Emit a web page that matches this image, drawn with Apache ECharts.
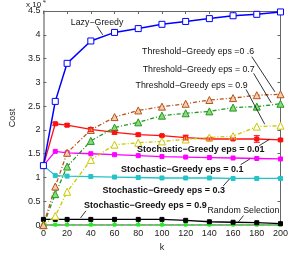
<!DOCTYPE html>
<html><head><meta charset="utf-8">
<script src="https://cdn.jsdelivr.net/npm/echarts@6/dist/echarts.min.js"></script>
<style>html,body{margin:0;padding:0;background:#fff}#c{width:291px;height:257px}</style>
</head><body><div id="c"></div>
<script>
// values in units of 10^4
var kValues = [0, 10, 20, 40, 60, 80, 100, 120, 140, 160, 180, 200];
var lazyGreedy = [1.25, 2.6, 3.4, 3.87, 4.05, 4.13, 4.22, 4.28, 4.34, 4.40, 4.43, 4.48];
var thr06 = [0, 0.81, 1.52, 2.0, 2.27, 2.41, 2.49, 2.55, 2.63, 2.67, 2.73, 2.75];
var thr07 = [0, 0.65, 1.23, 1.77, 2.05, 2.16, 2.30, 2.35, 2.39, 2.47, 2.49, 2.55];
var thr09 = [0, 0.19, 0.7, 1.37, 1.69, 1.73, 1.76, 1.80, 1.84, 1.87, 2.07, 2.09];
var sto001 = [1.25, 2.13, 2.1, 2.01, 1.95, 1.9, 1.88, 1.84, 1.81, 1.81, 1.81, 1.79];
var sto001Err = [0, 0.03, 0.03, 0.04, 0.04, 0.03, 0.02, 0.05, 0.02, 0.02, 0.07, 0.02];
var sto01 = [1.25, 1.55, 1.52, 1.5, 1.48, 1.46, 1.44, 1.43, 1.42, 1.41, 1.40, 1.39];
var sto03 = [1.25, 1.04, 1.03, 1.02, 1.01, 1.0, 0.99, 0.99, 0.99, 0.98, 0.98, 0.98];
var sto09 = [0.12, 0.12, 0.12, 0.12, 0.12, 0.12, 0.12, 0.10, 0.07, 0.06, 0.05, 0.03];
var randomSel = [0.01, 0.01, 0.01, 0.01, 0.01, 0.01, 0.01, 0.01, 0.01, 0.01, 0.01, 0.01];
var xTicks = [0, 20, 40, 60, 80, 100, 120, 140, 160, 180, 200];
var yTicks = [0, 0.5, 1, 1.5, 2, 2.5, 3, 3.5, 4, 4.5];

// annotations: [text, textK, textY, bold, arrowFromK, arrowFromY, arrowToK, arrowToY]
var annotations = [
  ['Lazy\u2212Greedy', 45.3, 4.26, false, 45.3, 4.18, 50, 4.0],
  ['Threshold\u2212Greedy eps =0 .6', 130.5, 3.64, false, 175.8, 3.54, 195.3, 2.80],
  ['Threshold\u2212Greedy eps = 0.7', 131, 3.27, false, 177.3, 3.19, 192.2, 2.57],
  ['Threshold\u2212Greedy eps = 0.9', 125, 2.93, false, 171, 2.85, 186.7, 2.12],
  ['Stochastic\u2212Greedy eps = 0.01', 132.8, 1.59, true, 182, 1.67, 190.6, 1.80],
  ['Stochastic\u2212Greedy eps = 0.1', 117.2, 1.17, true, 166.4, 1.27, 174.2, 1.39],
  ['Stochastic\u2212Greedy eps = 0.3', 101.6, 0.72, true, 151.6, 0.82, 157, 0.97],
  ['Stochastic\u2212Greedy eps = 0.9', 86, 0.42, true, 35.9, 0.30, 31.3, 0.15],
  ['Random Selection', 168.75, 0.30, false, 168.75, 0.20, 164, 0.05]
];

function pairs(arr){ return kValues.map(function(k,i){ return [k, arr[i]]; }); }
var dashDot = [4, 2, 1, 2];
var chart = echarts.init(document.getElementById('c'), null, {renderer:'canvas'});
var axisTxt = {color:'#222', fontSize:9, fontFamily:'Liberation Sans'};
function lineSeries(name, data, color, opts){
  return {name:name, type:'line', data:pairs(data), xAxisIndex:0, yAxisIndex:0,
    lineStyle:{color:color, width:opts.w||1.3, type:opts.type||'solid'},
    itemStyle:{color:opts.fill||color, borderColor:color, borderWidth:1},
    symbol:opts.symbol, symbolSize:opts.size, showSymbol:true, animation:false, z:opts.z||2};
}
var series = [
  lineSeries('rand', randomSel, '#22ee22', {symbol:'rect', size:3, type:[4,3]}),
  lineSeries('s09', sto09, '#000000', {symbol:'rect', size:4}),
  lineSeries('s03', sto03, '#22c4c8', {symbol:'rect', size:4}),
  lineSeries('s01', sto01, '#ff00ff', {symbol:'rect', size:4}),
  lineSeries('s001', sto001, '#ff1010', {symbol:'rect', size:4}),
  lineSeries('t09', thr09, '#c8c800', {symbol:'triangle', size:7, type:dashDot, fill:'#ffffff'}),
  lineSeries('t07', thr07, '#1e9a1e', {symbol:'triangle', size:7, type:dashDot, fill:'#8fd67f'}),
  lineSeries('t06', thr06, '#b8521c', {symbol:'triangle', size:7, type:dashDot, fill:'#f3cdb0'}),
  lineSeries('lazy', lazyGreedy, '#0000ff', {symbol:'rect', size:6, fill:'#ffffff', z:3, w:1.5}),
  {type:'custom', animation:false, z:4,
    data: kValues.map(function(k,i){ return [k, sto001[i], sto001Err[i]]; }),
    renderItem:function(params, api){
      var e = api.value(2); if(!e) return null;
      var top = api.coord([api.value(0), api.value(1)+e]);
      var bot = api.coord([api.value(0), api.value(1)-e]);
      var w = 3;
      var st = {stroke:'#ff1010', lineWidth:1};
      return {type:'group', children:[
        {type:'line', shape:{x1:top[0],y1:top[1],x2:bot[0],y2:bot[1]}, style:st},
        {type:'line', shape:{x1:top[0]-w,y1:top[1],x2:top[0]+w,y2:top[1]}, style:st},
        {type:'line', shape:{x1:bot[0]-w,y1:bot[1],x2:bot[0]+w,y2:bot[1]}, style:st}
      ]};
    }},
  {type:'line', data:[], animation:false, z:5,
    markLine:{silent:true, animation:false, symbol:['none','arrow'], symbolSize:[0,5],
      label:{show:false}, lineStyle:{color:'#000', width:0.8, type:'solid'},
      data: annotations.map(function(a){ return [{coord:[a[4],a[5]]},{coord:[a[6],a[7]]}]; })}}
];

chart.setOption({
  animation:false,
  grid:{left:27, right:8, top:11, bottom:20, containLabel:false},
  xAxis:[
    {type:'value', min:0, max:200, interval:20, position:'bottom',
      name:'k', nameLocation:'middle', nameGap:12, nameTextStyle:{color:'#222', fontSize:9, fontFamily:'Liberation Sans'},
      axisLine:{lineStyle:{color:'#888', width:1.5}}, axisTick:{inside:true, length:3, lineStyle:{color:'#666'}},
      axisLabel:Object.assign({margin:4}, axisTxt), splitLine:{show:false}},
    {type:'value', min:0, max:200, interval:20, position:'top',
      axisLine:{show:true, onZero:false, lineStyle:{color:'#666', width:1}}, axisTick:{inside:true, length:3, lineStyle:{color:'#666'}},
      axisLabel:{show:false}, splitLine:{show:false}}
  ],
  yAxis:[
    {type:'value', min:0, max:4.5, interval:0.5, position:'left',
      name:'Cost', nameLocation:'middle', nameGap:19, nameRotate:90, nameTextStyle:{color:'#222', fontSize:9, fontFamily:'Liberation Sans'},
      axisLine:{show:true, lineStyle:{color:'#888', width:1.5}}, axisTick:{show:true, inside:true, length:3, lineStyle:{color:'#666'}},
      axisLabel:Object.assign({margin:3, formatter:function(v){ return String(v); }}, axisTxt), splitLine:{show:false}},
    {type:'value', min:0, max:4.5, interval:0.5, position:'right',
      axisLine:{show:true, onZero:false, lineStyle:{color:'#666', width:1}}, axisTick:{show:true, inside:true, length:3, lineStyle:{color:'#666'}},
      axisLabel:{show:false}, splitLine:{show:false}}
  ],
  series:series
});

var g = [{type:'text', left:26, top:1, style:{text:'x 10', fill:'#222', font:'8px "Liberation Sans"'}},
         {type:'text', left:43, top:-1, style:{text:'4', fill:'#222', font:'5px "Liberation Sans"'}}];
annotations.forEach(function(a){
  var p = chart.convertToPixel({gridIndex:0}, [a[1], a[2]]);
  g.push({type:'text', x:p[0], y:p[1], z:10, style:{text:a[0], fill:'#111', align:'center', verticalAlign:'middle',
    font:(a[3]?'bold 9px':'8.8px')+' "Liberation Sans"'}});
});
chart.setOption({graphic:g});
</script></body></html>
